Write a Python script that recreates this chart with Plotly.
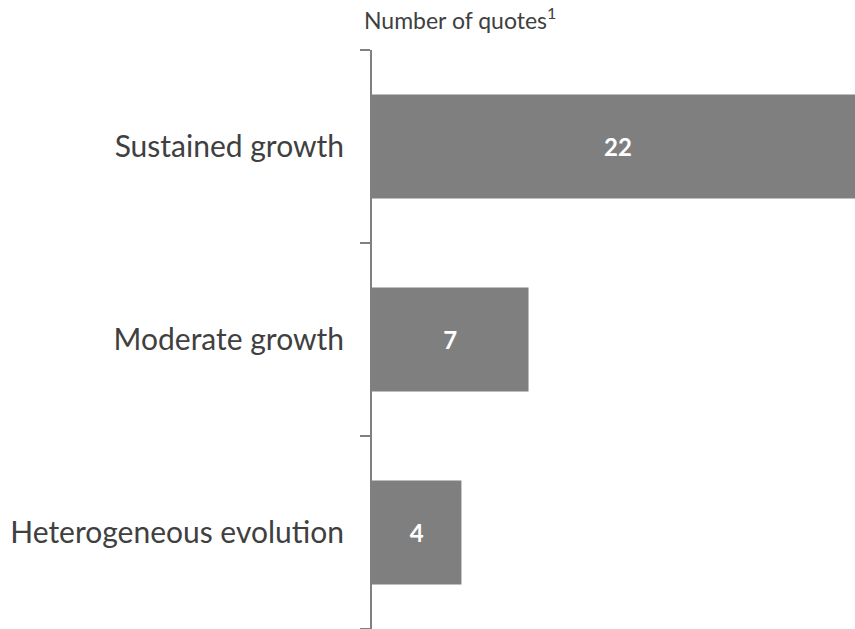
import plotly.graph_objects as go

categories = ["Sustained growth", "Moderate growth", "Heterogeneous evolution"]
values = [22, 7, 4]
title_text = "Number of quotes<sup>1</sup>"

fig = go.Figure(go.Bar(
    y=categories, x=values, orientation="h",
    marker=dict(color="#7f7f7f", line=dict(width=0)),
    width=0.54,
    text=[str(v) for v in values], textposition="inside", insidetextanchor="middle",
    textfont=dict(family="Lato", size=24, color="white", weight="bold"),
    cliponaxis=True,
))

fig.update_layout(
    width=855, height=629,
    margin=dict(l=372, r=0, t=50, b=0),
    plot_bgcolor="white", paper_bgcolor="white",
    showlegend=False,
)
fig.add_annotation(text=title_text, xref="paper", yref="paper", x=-0.02, y=1.0,
                   yshift=32, xanchor="left", yanchor="middle", showarrow=False,
                   font=dict(family="Lato", size=23, color="#404040"))

fig.update_xaxes(range=[0, 21.6], visible=False, fixedrange=True)
fig.update_yaxes(
    categoryorder="array", categoryarray=categories[::-1],
    showline=True, linecolor="#808080", linewidth=2,
    ticks="outside", ticklen=10, tickwidth=2, tickcolor="#808080",
    tickson="boundaries", showgrid=False,
    tickfont=dict(family="Lato", size=30, color="#404040"),
    ticklabelstandoff=20,
)

fig.write_html("out.html")
